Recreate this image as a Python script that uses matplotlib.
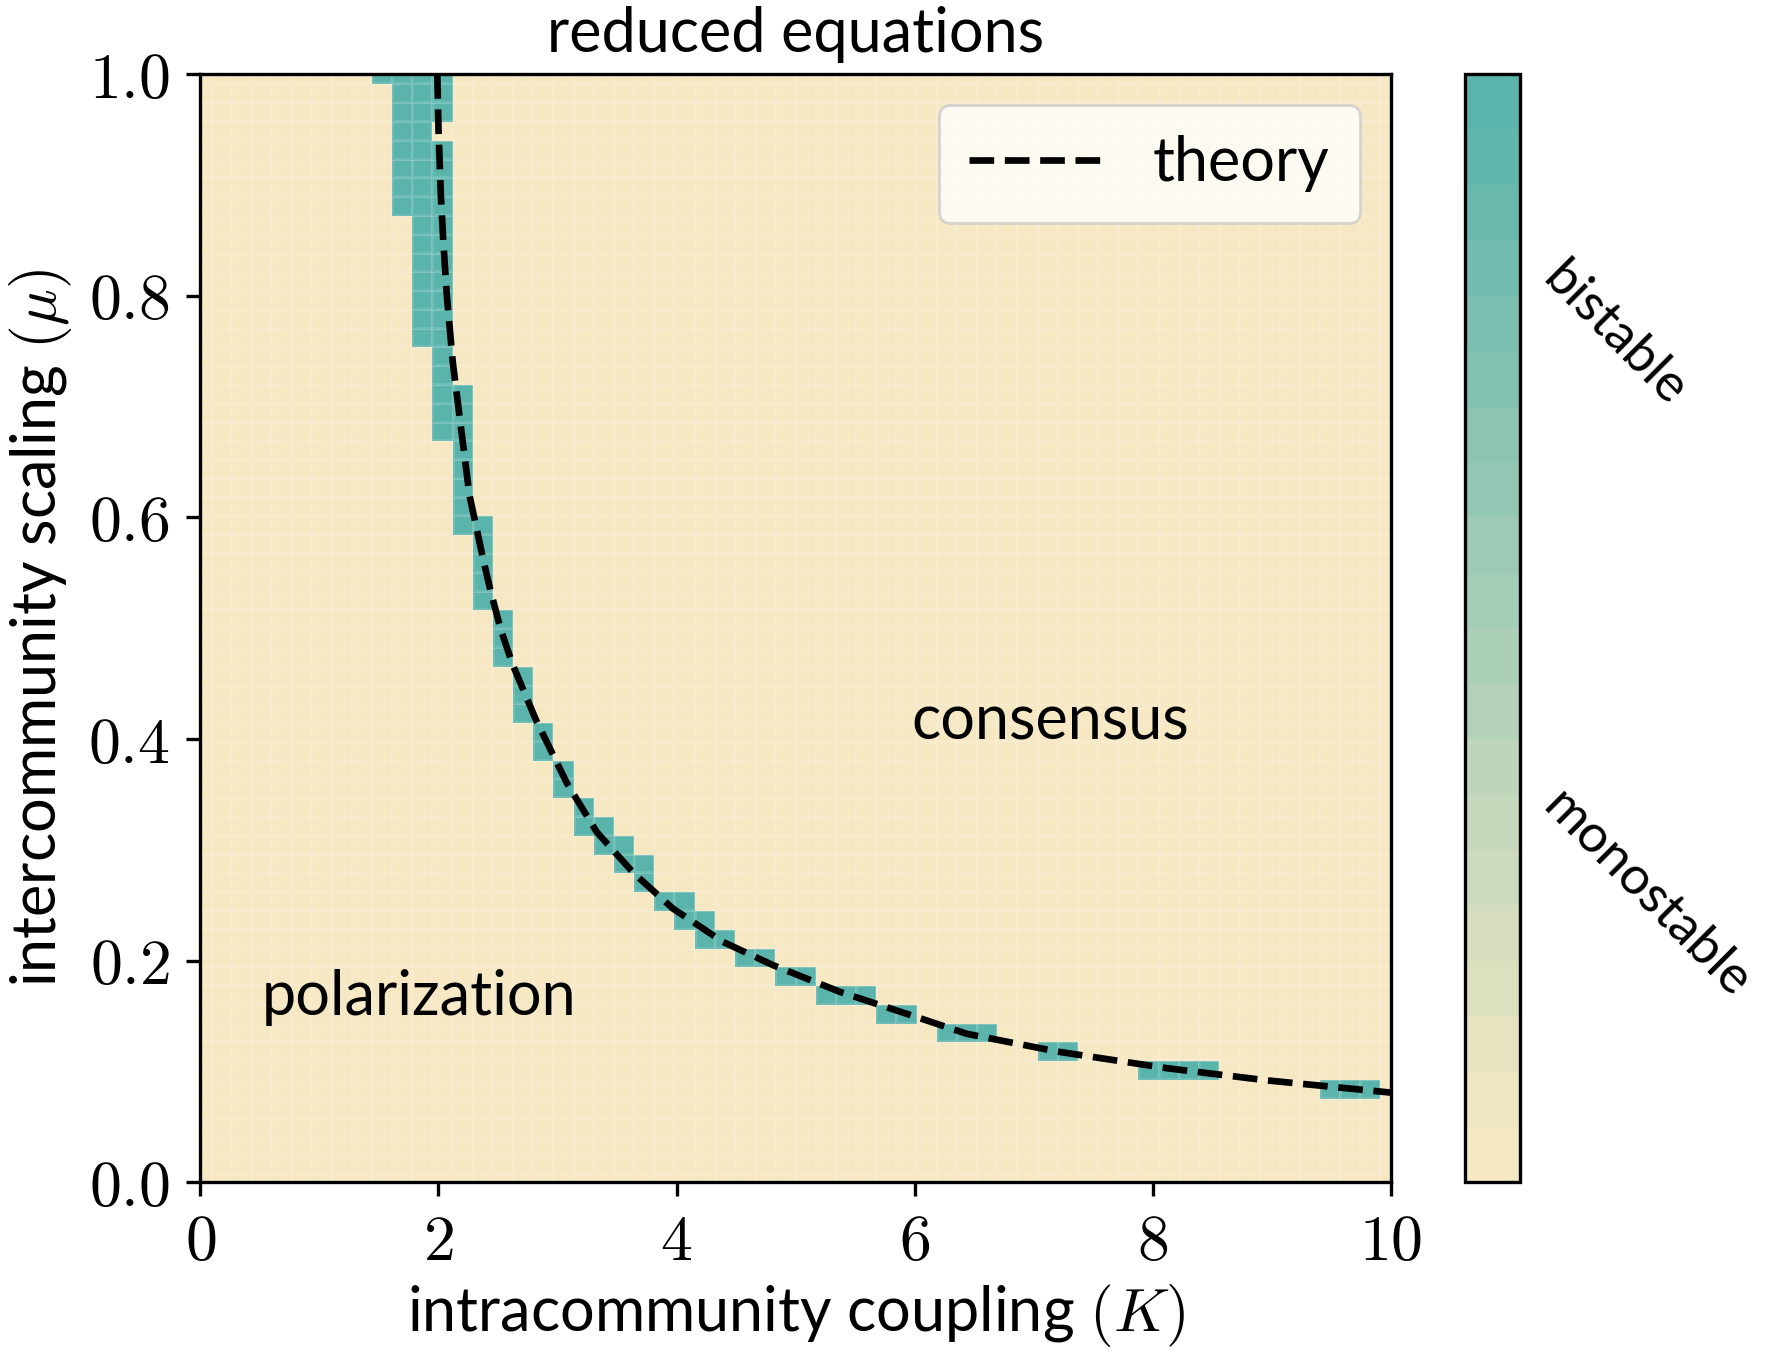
import numpy as np
import matplotlib
matplotlib.use('Agg')
import matplotlib.pyplot as plt
import matplotlib.colors as colors
from matplotlib.ticker import FuncFormatter

plt.rcParams['font.family'] = ['Lato', 'DejaVu Sans']
plt.rcParams['mathtext.fontset'] = 'cm'

# grid of the scan (60 x 60)
K_vals = np.linspace(0, 10, 60)
mu_vals = np.linspace(0, 1, 60)

# bistable cells: column index in K, first and last row index in mu
bist_col = [9, 10, 11, 12, 12, 13, 14, 15, 16, 17, 18, 19, 20, 21, 22, 23, 24, 25, 26,
            27, 28, 29, 30, 31, 32, 33, 34, 35, 37, 38, 39, 42, 43, 47, 48, 49, 50, 56, 57, 58]
bist_lo = [59, 52, 45, 57, 40, 35, 31, 28, 25, 23, 21, 19, 18, 17, 16, 15, 14, 13, 13,
           12, 12, 11, 11, 10, 10, 10, 9, 9, 8, 8, 8, 7, 7, 6, 6, 6, 6, 5, 5, 5]
bist_hi = [59, 59, 59, 59, 55, 42, 35, 30, 27, 24, 22, 20, 19, 18, 17, 15, 15, 14, 13,
           12, 12, 11, 11, 10, 10, 10, 9, 9, 8, 8, 8, 7, 7, 6, 6, 6, 6, 5, 5, 5]

# theory boundary
theory_K = [1.99, 2.00, 2.02, 2.04, 2.07, 2.12, 2.19, 2.26, 2.38, 2.43, 2.52, 2.62, 2.82,
            3.08, 3.33, 3.64, 3.97, 4.39, 4.81, 5.37, 6.02, 6.44, 7.20, 8.12, 8.96, 10.0]
theory_mu = [1.0, 0.95, 0.89, 0.85, 0.80, 0.74, 0.68, 0.62, 0.56, 0.537, 0.50, 0.468, 0.417,
             0.36, 0.316, 0.279, 0.247, 0.217, 0.196, 0.172, 0.149, 0.134, 0.118, 0.103, 0.092, 0.081]

Z = np.zeros((len(mu_vals), len(K_vals)))
for c, lo, hi in zip(bist_col, bist_lo, bist_hi):
    Z[lo:hi+1, c] = 1.0

cmap = colors.LinearSegmentedColormap.from_list('bist', ['#f6e8c3', '#5ab4ac'], N=20)

fig = plt.figure(figsize=(8.84, 6.795), dpi=200)
ax = fig.add_axes([0.1134, 0.130, 0.6731, 0.8155])
cax = fig.add_axes([0.8285, 0.130, 0.0311, 0.8155])

pc = ax.pcolormesh(K_vals, mu_vals, Z, cmap=cmap, vmin=0, vmax=1, shading='nearest',
                   edgecolors=(1, 1, 1, 0.12), linewidth=0.5)
ax.plot(theory_K, theory_mu, 'k--', lw=2.4, label='theory')
ax.set_xlim(0, 10)
ax.set_ylim(0, 1)

fs = 22
ax.set_xticks([0, 2, 4, 6, 8, 10])
ax.set_yticks([0, 0.2, 0.4, 0.6, 0.8, 1.0])
ax.xaxis.set_major_formatter(FuncFormatter(lambda v, p: '$%d$' % v))
ax.yaxis.set_major_formatter(FuncFormatter(lambda v, p: '$%.1f$' % v))
ax.tick_params(labelsize=23, length=5, width=1.2, pad=6)
for s in ax.spines.values():
    s.set_linewidth(1.2)

ax.set_xlabel('intracommunity coupling $(K)$', fontsize=22, labelpad=4)
ax.set_ylabel('intercommunity scaling $(\\mu)$', fontsize=22, labelpad=5)
ax.set_title('reduced equations', fontsize=fs, pad=8)

ax.text(7.14, 0.415, 'consensus', fontsize=fs, ha='center', va='center')
ax.text(1.84, 0.167, 'polarization', fontsize=fs, ha='center', va='center')

leg = ax.legend(loc='upper right', fontsize=fs, handlelength=2.2, handletextpad=0.8,
                fancybox=True, framealpha=0.8, borderpad=0.5)

cb = fig.colorbar(pc, cax=cax)
cb.outline.set_linewidth(1.2)
cb.set_ticks([])
cax.text(1.25, 0.765, 'bistable', transform=cax.transAxes, fontsize=19,
         rotation=-45, ha='left', va='center')
cax.text(1.25, 0.26, 'monostable', transform=cax.transAxes, fontsize=19,
         rotation=-45, ha='left', va='center')

fig.savefig('out.png', dpi=200)
